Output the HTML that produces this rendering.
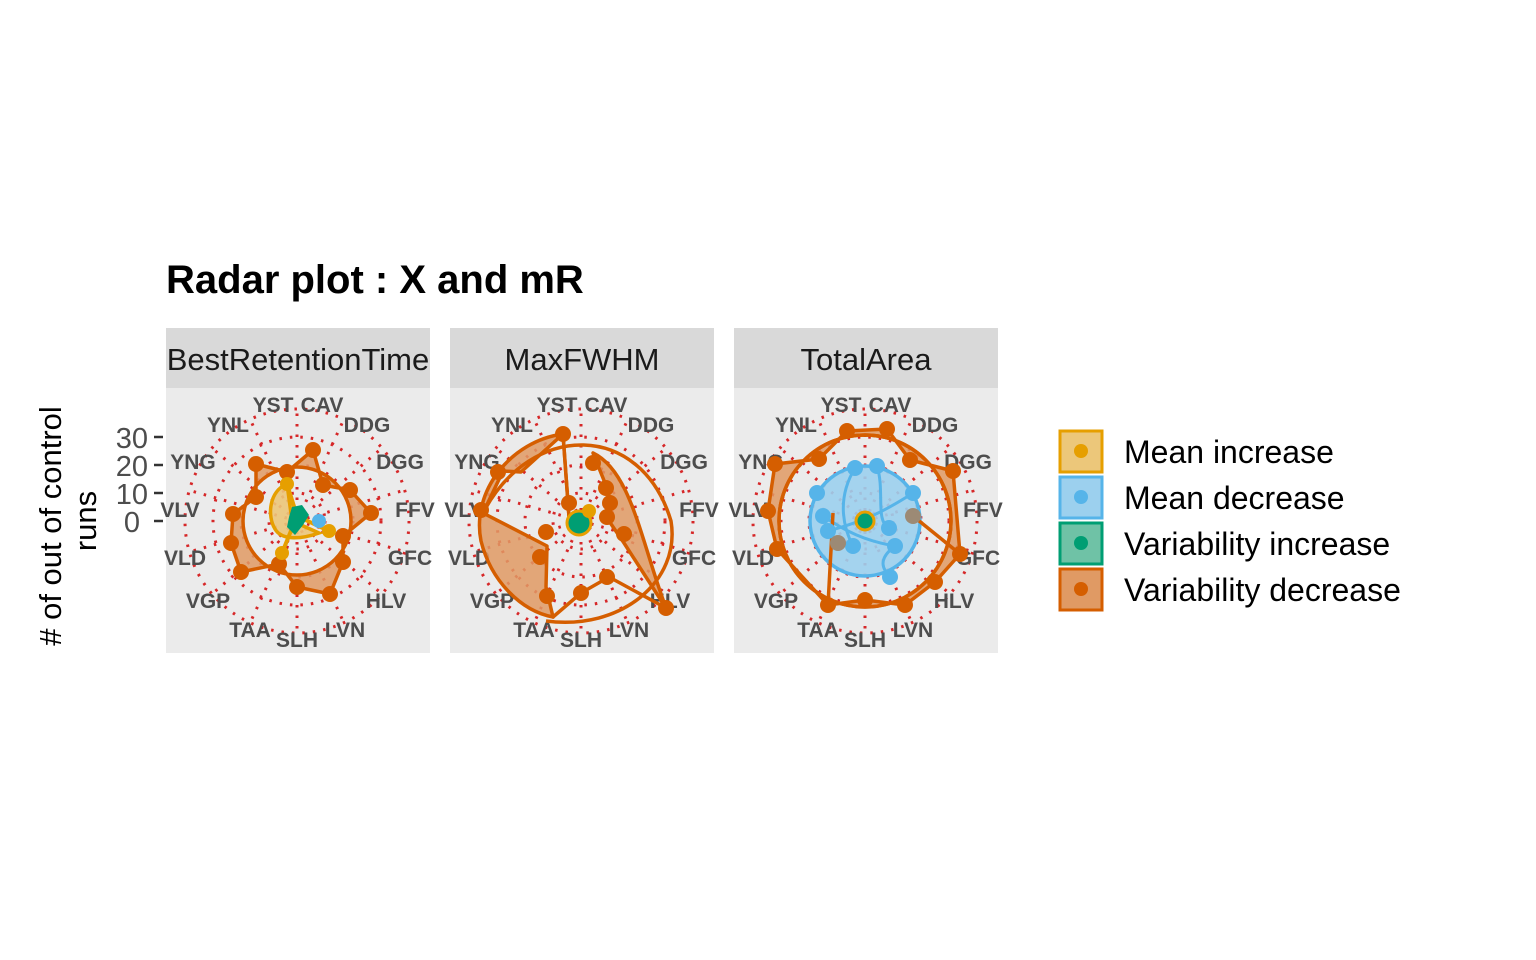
<!DOCTYPE html>
<html><head><meta charset="utf-8"><style>
html,body{margin:0;padding:0;background:#fff;}
svg{display:block;font-family:"Liberation Sans",Arial,sans-serif;}
.lab{font-size:21px;font-weight:bold;fill:#4d4d4d;text-anchor:middle;}
.grid{fill:none;stroke:#d62728;stroke-width:3;stroke-dasharray:2.5 8;}
.vd{fill:#e09a64;fill-opacity:.85;stroke:#d55e00;stroke-width:3.5;stroke-linejoin:round;fill-rule:evenodd;}
.md{fill:#9cd0ee;fill-opacity:.9;stroke:#56b4e9;stroke-width:3.5;stroke-linejoin:round;}
.mi{fill:#ecc77a;fill-opacity:.9;stroke:#e69f00;stroke-width:3.5;}
</style></head><body>
<svg width="1536" height="960" viewBox="0 0 1536 960">
<defs>
<g id="grid">
 <rect x="-131" y="-133" width="264" height="265" fill="#ebebeb"/>
 <circle r="28" class="grid"/><circle r="56" class="grid"/><circle r="84" class="grid"/><circle r="112" class="grid"/>
 <g class="grid">
  <path d="M0 0L0-112M0 0L47-102M0 0L85-73M0 0L108-31M0 0L109 31M0 0L85 73M0 0L47 102M0 0L0 112M0 0L-47 102M0 0L-85 73M0 0L-108 31M0 0L-109-31M0 0L-85-73M0 0L-47-102"/>
 </g>
 <text class="lab" x="-24" y="-109">YST</text><text class="lab" x="25" y="-109">CAV</text>
 <text class="lab" x="70" y="-89">DDG</text><text class="lab" x="103" y="-52">DGG</text>
 <text class="lab" x="118" y="-4">FFV</text><text class="lab" x="113" y="44">GFC</text>
 <text class="lab" x="89" y="87">HLV</text><text class="lab" x="48" y="116">LVN</text>
 <text class="lab" x="0" y="126">SLH</text><text class="lab" x="-47" y="116">TAA</text>
 <text class="lab" x="-89" y="87">VGP</text><text class="lab" x="-112" y="44">VLD</text>
 <text class="lab" x="-117" y="-4">VLV</text><text class="lab" x="-104" y="-52">YNG</text>
 <text class="lab" x="-69" y="-89">YNL</text>
</g>
<clipPath id="cp"><rect x="-131" y="-133" width="264" height="265"/></clipPath>
</defs>

<text x="166" y="293" font-size="40" font-weight="bold" fill="#000">Radar plot : X and mR</text>

<rect x="166" y="328" width="264" height="60" fill="#d9d9d9"/>
<rect x="450" y="328" width="264" height="60" fill="#d9d9d9"/>
<rect x="734" y="328" width="264" height="60" fill="#d9d9d9"/>
<g font-size="31" fill="#1a1a1a" text-anchor="middle">
<text x="298" y="370">BestRetentionTime</text>
<text x="582" y="370">MaxFWHM</text>
<text x="866" y="370">TotalArea</text>
</g>

<g font-size="29" fill="#4d4d4d" text-anchor="end">
<text x="148" y="448">30</text><text x="148" y="476">20</text><text x="148" y="504">10</text><text x="140" y="532">0</text>
</g>
<g stroke="#333" stroke-width="2.5"><path d="M154 437h9M154 465h9M154 493h9M154 521h9"/></g>
<text transform="translate(61,526) rotate(-90)" font-size="31" fill="#000" text-anchor="middle"># of out of control</text>
<text transform="translate(96,521) rotate(-90)" font-size="31" fill="#000" text-anchor="middle">runs</text>

<!-- panel 1 -->
<g transform="translate(297,521)"><use href="#grid"/>
<g clip-path="url(#cp)">
 <path class="vd" d="M-10-49L16-71L26-36L53-31L74-8L46 15L46 41L33 73L0 66L-18 43L-56 51L-66 22L-64-7L-41-24L-41-57Z M54 0A54 54 0 1 0 -54 0A54 54 0 1 0 54 0Z"/>
 <path class="mi" d="M-10-37C-28-30-30 -5-22 8C-15 20 5 18 22 12L-5 0Z"/>
 <path d="M-10-37L0-5L32 10M0-5L-15 32" stroke="#e69f00" stroke-width="4" fill="none"/>
 <circle cx="22" cy="0" r="7" fill="#56b4e9"/>
 <path d="M-5-14L5-16L12-6L6 4L-2 14L-10 6L-8-4Z" fill="#009e73"/>
 <g fill="#d55e00"><circle cx="-10" cy="-49" r="8"/><circle cx="16" cy="-71" r="8"/><circle cx="26" cy="-36" r="8"/><circle cx="53" cy="-31" r="8"/><circle cx="74" cy="-8" r="8"/><circle cx="46" cy="15" r="8"/><circle cx="46" cy="41" r="8"/><circle cx="33" cy="73" r="8"/><circle cx="0" cy="66" r="8"/><circle cx="-18" cy="43" r="8"/><circle cx="-56" cy="51" r="8"/><circle cx="-66" cy="22" r="8"/><circle cx="-64" cy="-7" r="8"/><circle cx="-41" cy="-24" r="8"/><circle cx="-41" cy="-57" r="8"/></g>
 <g fill="#e69f00"><circle cx="-10" cy="-37" r="7"/><circle cx="32" cy="10" r="7"/><circle cx="-15" cy="32" r="7"/></g>
</g></g>

<!-- panel 2 -->
<g transform="translate(581,521)"><use href="#grid"/>
<g clip-path="url(#cp)">
 <path class="vd" d="M-18-87C-70-80-110-30-100 20C-90 60-60 90-28 96L-35 66L-34 25L-98-8L-78-50L-60-49L-18-87L-12-4Z"/>
 <path class="vd" d="M12-68L26-33L30-17L28 0L43 22L85 87C60 20 50-50 12-68Z"/>
 <path class="vd" d="M85 87L28 56L0 72L-28 96L0 72L28 56Z"/>
 <path d="M-98-8C-50-100 60-100 90 0C100 60 40 110-35 100" fill="none" stroke="#d55e00" stroke-width="3.5"/>
 <path d="M-12-4L-18-87" stroke="#d55e00" stroke-width="3.5" fill="none"/>
 <circle cx="-2" cy="2" r="12" fill="#009e73" stroke="#e69f00" stroke-width="3"/>
 <circle cx="8" cy="-10" r="7" fill="#e69f00"/>
 <g fill="#d55e00"><circle cx="-18" cy="-87" r="8"/><circle cx="12" cy="-58" r="8"/><circle cx="25" cy="-33" r="8"/><circle cx="29" cy="-18" r="8"/><circle cx="26" cy="-4" r="8"/><circle cx="43" cy="13" r="8"/><circle cx="85" cy="87" r="8"/><circle cx="26" cy="56" r="8"/><circle cx="0" cy="72" r="8"/><circle cx="-34" cy="75" r="8"/><circle cx="-41" cy="36" r="8"/><circle cx="-35" cy="11" r="8"/><circle cx="-12" cy="-18" r="8"/><circle cx="-100" cy="-11" r="8"/><circle cx="-83" cy="-49" r="8"/></g>
</g></g>

<!-- panel 3 -->
<g transform="translate(865,521)"><use href="#grid"/>
<g clip-path="url(#cp)">
 <path class="vd" d="M-18-90L-46-62L-90-57L-97-10L-88 28L-37 84L0 79L40 84L70 61L95 33L88-50L45-61L22-92Z M86 0A86 86 0 1 0 -86 0A86 86 0 1 0 86 0Z"/>
 <circle r="86" fill="none" stroke="#d55e00" stroke-width="3.5"/>
 <circle r="55" class="md"/>
 <path d="M-10-53C-30-20-20 10-12 25M12-55C20-30 10 0 24 7M48-28C20-10 0 0 -37 10M30 25C10 40 20 50 25 56M-42-5C-20 10 0 20 30 25" fill="none" stroke="#56b4e9" stroke-width="3"/>
 <path d="M-32-8L-37 84M48-5L95 33" stroke="#d55e00" stroke-width="3.5" fill="none"/>
 <g fill="#56b4e9"><circle cx="-10" cy="-53" r="8"/><circle cx="12" cy="-55" r="8"/><circle cx="48" cy="-28" r="8"/><circle cx="24" cy="7" r="8"/><circle cx="30" cy="25" r="8"/><circle cx="25" cy="56" r="8"/><circle cx="-12" cy="25" r="8"/><circle cx="-37" cy="10" r="8"/><circle cx="-42" cy="-5" r="8"/><circle cx="-48" cy="-28" r="8"/></g>
 <circle cx="48" cy="-5" r="8" fill="#9c8a75"/><circle cx="-27" cy="22" r="8" fill="#9c8a75"/>
 <circle cx="0" cy="0" r="9" fill="#009e73" stroke="#e69f00" stroke-width="3"/>
 <g fill="#d55e00"><circle cx="-18" cy="-90" r="8"/><circle cx="22" cy="-92" r="8"/><circle cx="45" cy="-61" r="8"/><circle cx="88" cy="-50" r="8"/><circle cx="95" cy="33" r="8"/><circle cx="70" cy="61" r="8"/><circle cx="40" cy="84" r="8"/><circle cx="0" cy="79" r="8"/><circle cx="-37" cy="84" r="8"/><circle cx="-88" cy="28" r="8"/><circle cx="-97" cy="-10" r="8"/><circle cx="-90" cy="-57" r="8"/><circle cx="-46" cy="-62" r="8"/></g>
</g></g>

<g>
 <rect x="1060" y="431" width="42" height="41" fill="#ecc77a" stroke="#e69f00" stroke-width="3"/><circle cx="1081" cy="451" r="7" fill="#e69f00"/>
 <rect x="1060" y="477" width="42" height="41" fill="#9cd0ee" stroke="#56b4e9" stroke-width="3"/><circle cx="1081" cy="497" r="7" fill="#56b4e9"/>
 <rect x="1060" y="523" width="42" height="41" fill="#6fc2a6" stroke="#009e73" stroke-width="3"/><circle cx="1081" cy="543" r="7" fill="#009e73"/>
 <rect x="1060" y="569" width="42" height="41" fill="#e09a64" stroke="#d55e00" stroke-width="3"/><circle cx="1081" cy="589" r="7" fill="#d55e00"/>
 <g font-size="32" fill="#000">
  <text x="1124" y="463">Mean increase</text><text x="1124" y="509">Mean decrease</text>
  <text x="1124" y="555">Variability increase</text><text x="1124" y="601">Variability decrease</text>
 </g>
</g>
</svg>
</body></html>
